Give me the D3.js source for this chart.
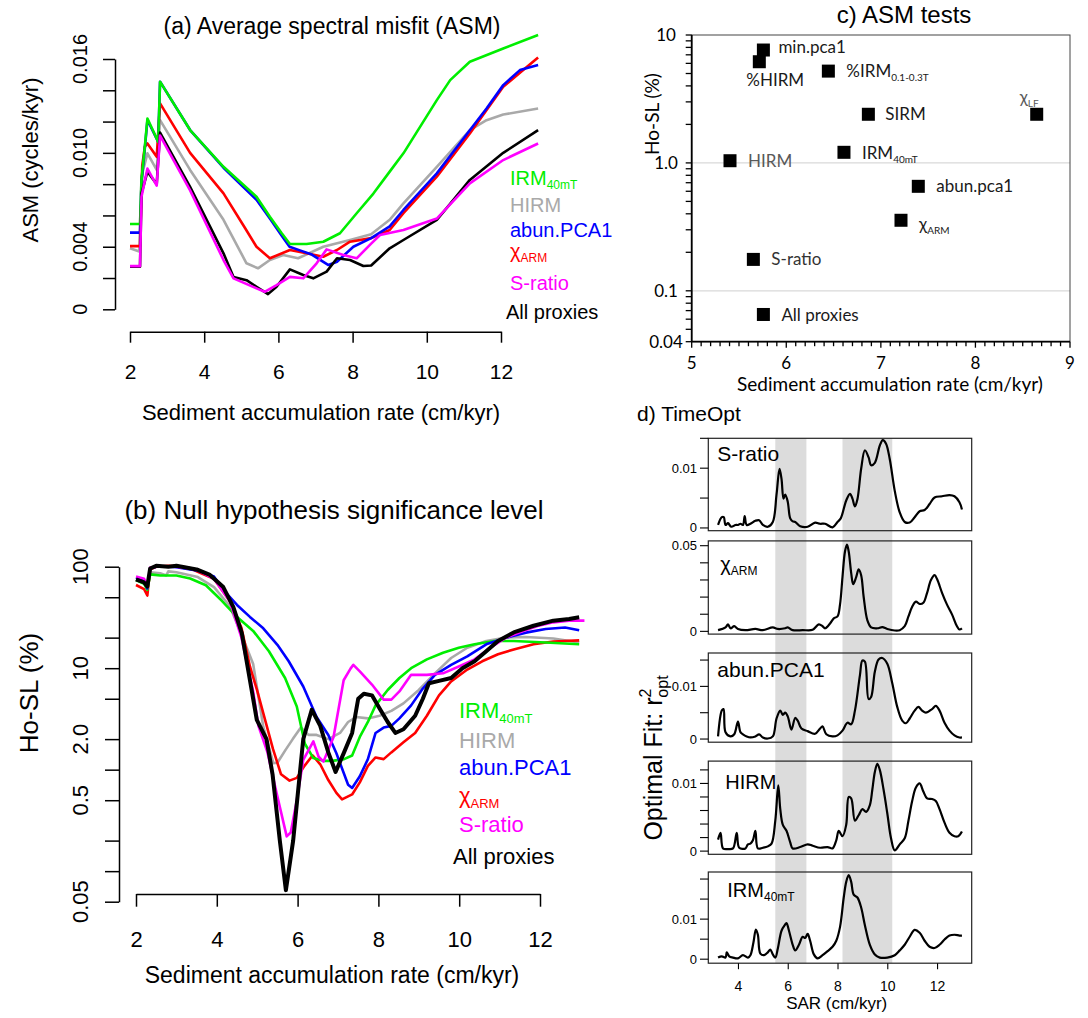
<!DOCTYPE html>
<html>
<head>
<meta charset="utf-8">
<script src="https://cdn.jsdelivr.net/npm/d3@7"></script>
<style>
  body { margin: 0; background: #fff; }
  svg { display: block; }
</style>
</head>
<body>
<svg id="fig"></svg>
<script>
// ---------- data ----------

// (a) average spectral misfit, [SAR cm/kyr, ASM cycles/kyr]
const asmIrm40 = [[2,0.00545],[2.27,0.00545],[2.31,0.0083],[2.4,0.0104],[2.47,0.0122],[2.76,0.0107],[2.81,0.01455],[3.62,0.01146],[4.52,0.00911],[5.41,0.0072],[5.77,0.00592],[6.09,0.00486],[6.31,0.00417],[6.76,0.00417],[7.21,0.00432],[7.66,0.00486],[8.11,0.00614],[8.56,0.0074],[9.0,0.0088],[9.37,0.00997],[10.27,0.01337],[10.63,0.01465],[11.16,0.01582],[12.06,0.01667],[13.0,0.01753]];
const asmHirm = [[2,0.0039],[2.25,0.0037],[2.31,0.0085],[2.47,0.00997],[2.72,0.00891],[2.81,0.01209],[3.62,0.00891],[4.52,0.00572],[5.14,0.00294],[5.45,0.00262],[5.77,0.00315],[6.13,0.00347],[6.53,0.00326],[7.21,0.004],[7.93,0.00443],[8.5,0.0048],[9.0,0.00572],[9.37,0.00677],[10.27,0.0091],[11.16,0.01145],[11.61,0.01209],[12.06,0.01245],[13.0,0.01284]];
const asmAbun = [[2,0.0049],[2.27,0.0049],[2.31,0.0081],[2.4,0.0103],[2.47,0.0121],[2.76,0.0107],[2.81,0.01455],[3.62,0.01146],[4.52,0.00905],[5.41,0.007],[5.77,0.0058],[6.09,0.0047],[6.3,0.004],[6.6,0.00375],[6.9,0.0035],[7.35,0.00283],[7.58,0.00304],[8.02,0.004],[8.5,0.00455],[9.0,0.0053],[9.37,0.00635],[10.27,0.00869],[11.16,0.01145],[11.61,0.01284],[12.06,0.01433],[12.51,0.01529],[13.0,0.01561]];
const asmChiArm = [[2,0.00404],[2.27,0.00404],[2.33,0.0092],[2.4,0.0104],[2.47,0.0106],[2.72,0.00975],[2.81,0.01316],[3.62,0.01],[4.52,0.00741],[5.1,0.0052],[5.41,0.004],[5.77,0.00326],[6.31,0.00379],[6.76,0.00358],[7.21,0.00336],[7.58,0.00379],[7.93,0.00432],[8.5,0.00455],[9.0,0.00507],[9.37,0.00614],[10.27,0.00848],[11.16,0.01124],[12.06,0.01422],[13.0,0.0161]];
const asmSratio = [[2,0.00276],[2.27,0.00276],[2.31,0.0072],[2.47,0.009],[2.72,0.0079],[2.81,0.0111],[3.62,0.0076],[4.52,0.00315],[4.79,0.00198],[5.41,0.00134],[5.63,0.00112],[5.95,0.00155],[6.31,0.00207],[6.67,0.00198],[7.03,0.00294],[7.3,0.00383],[7.75,0.00347],[8.11,0.00326],[8.5,0.0042],[8.74,0.00475],[9.37,0.00507],[10.27,0.0058],[11.16,0.00805],[12.06,0.00954],[13.0,0.0106]];
const asmAll = [[2,0.00272],[2.27,0.00272],[2.31,0.0074],[2.47,0.0088],[2.72,0.008],[2.81,0.0113],[3.62,0.00783],[4.52,0.00358],[4.79,0.00207],[5.14,0.00186],[5.41,0.00144],[5.72,0.00097],[5.95,0.00144],[6.31,0.00255],[6.67,0.00219],[6.94,0.00198],[7.3,0.00241],[7.58,0.00326],[7.93,0.00315],[8.29,0.00277],[8.5,0.0028],[9.0,0.0039],[9.37,0.00443],[10.27,0.00571],[11.16,0.00827],[12.06,0.01],[13.0,0.01145]];

// (b) null hypothesis significance level, [SAR, Ho-SL %]
const hoIrm40 = [[2.0,74],[2.2,68],[2.28,59],[2.35,84],[2.6,82],[3.0,82],[3.34,76.5],[3.73,65.6],[4.12,46.4],[4.51,31.7],[4.9,23.3],[5.29,14.7],[5.69,8.0],[5.98,4.2],[6.18,1.8],[6.39,1.3],[6.66,1.22],[6.86,1.22],[7.15,1.27],[7.35,1.38],[7.54,2.1],[7.74,2.95],[7.93,4.3],[8.23,6.1],[8.52,8.0],[8.81,10.0],[9.2,12.2],[9.6,14.2],[9.99,15.9],[10.38,17.2],[10.87,18.5],[11.35,18.5],[12.14,17.9],[12.97,17.2]];
const hoHirm = [[2.0,74],[2.2,70],[2.28,61],[2.35,88],[2.6,86],[2.75,82],[2.8,90],[3.0,88],[3.53,79],[3.93,63],[4.32,41],[4.61,21.6],[4.9,11],[5.15,2.65],[5.4,1.16],[5.5,1.17],[5.69,1.54],[5.88,2.0],[6.08,2.6],[6.27,2.2],[6.47,2.2],[6.76,2.0],[7.05,2.3],[7.25,2.95],[7.45,3.3],[7.74,3.2],[8.03,3.4],[8.32,3.8],[8.62,4.5],[9.0,6.1],[9.4,8.9],[9.8,12.6],[10.2,15.9],[10.67,18.5],[11.16,20],[11.65,20.3],[12.33,19.6],[12.97,17.9]];
const hoAbun = [[2.0,78],[2.2,72],[2.28,61],[2.35,96],[2.5,100],[2.8,100],[3.0,99],[3.5,92],[3.93,80],[4.16,59],[4.5,42],[4.82,32],[5.15,24.7],[5.5,17],[5.78,11.7],[6.14,6.6],[6.47,3.3],[6.76,2.2],[6.96,1.45],[7.25,0.71],[7.35,0.66],[7.54,0.86],[7.74,1.27],[7.93,2.3],[8.13,2.6],[8.32,2.7],[8.52,3.2],[8.81,4.3],[9.1,6.3],[9.4,8.6],[9.8,10.8],[10.2,13.1],[10.67,17.2],[11.16,20],[11.65,22.4],[12.14,24.3],[12.62,25.2],[12.97,23.6]];
const hoChiArm = [[2.0,66],[2.2,60],[2.28,52],[2.35,94],[2.5,100],[2.8,102],[3.0,101],[3.3,98],[3.53,89],[3.93,76],[4.32,46],[4.61,25],[4.82,10.4],[5.0,6.0],[5.15,3.6],[5.39,1.6],[5.59,0.9],[5.8,0.78],[5.98,0.83],[6.17,1.09],[6.37,1.38],[6.56,1.13],[6.76,0.79],[6.96,0.59],[7.1,0.51],[7.35,0.57],[7.54,0.75],[7.74,1.09],[7.93,1.32],[8.13,1.27],[8.32,1.48],[8.62,1.86],[8.91,2.3],[9.2,3.4],[9.5,5.4],[9.8,7.4],[10.2,9.7],[10.57,11.7],[10.96,13.7],[11.35,15.3],[11.84,17.2],[12.33,18.3],[12.97,18.8]];
const hoSratio = [[2.0,80],[2.2,76],[2.28,65],[2.35,98],[2.5,100],[2.8,101],[3.0,100],[3.5,94],[3.93,76],[4.32,46],[4.61,20],[4.9,5.9],[5.03,2.7],[5.25,1.5],[5.48,0.59],[5.73,0.22],[5.83,0.24],[5.98,0.5],[6.14,1.25],[6.39,1.9],[6.52,1.34],[6.64,1.2],[6.89,2.1],[7.14,7.6],[7.31,9.9],[7.38,10.8],[7.54,9.3],[7.84,6.9],[8.13,4.9],[8.32,4.9],[8.52,5.9],[8.81,8.6],[9.2,8.6],[9.6,8.9],[9.99,10.4],[10.38,12.2],[10.77,15.9],[11.16,20],[11.55,23],[11.94,26],[12.33,28.3],[12.72,29.4],[13.1,29.4]];
const hoAll = [[2.0,75],[2.2,70],[2.28,64],[2.35,96],[2.5,102],[2.8,100],[3.0,102],[3.5,94],[3.83,83],[4.16,63],[4.41,40],[4.62,22],[4.82,7.6],[4.99,3.1],[5.23,2.0],[5.38,0.9],[5.56,0.2],[5.71,0.065],[5.89,0.2],[6.14,2.0],[6.35,3.9],[6.56,2.7],[6.76,1.48],[6.94,0.95],[7.15,1.48],[7.35,2.3],[7.5,5.0],[7.64,5.6],[7.84,5.4],[8.03,4.0],[8.23,2.95],[8.42,2.3],[8.62,2.5],[8.91,3.4],[9.1,5.0],[9.25,7.1],[9.5,7.5],[9.8,8.0],[10.08,10.0],[10.38,11.7],[10.67,14.7],[10.96,18.5],[11.35,22.5],[11.84,26.2],[12.33,29.4],[12.72,30.5],[12.97,31.7]];

const proxyMain = ["IRM", "HIRM", "abun.PCA1", "χ", "S-ratio", "All proxies"];
const proxySub = ["40mT", "", "", "ARM", "", ""];
const proxyColors = ["#00ee00", "#a9a9a9", "#0000ff", "#ff0000", "#ff00ff", "#000000"];

// (c) ASM tests
const testMain = ["min.pca1", "%HIRM", "%IRM", "χ", "SIRM", "IRM", "HIRM", "abun.pca1", "χ", "S-ratio", "All proxies"];
const testSub = ["", "", "0.1-0.3T", "LF", "", "40mT", "", "", "ARM", "", ""];
const testSar = [5.758, 5.715, 6.445, 8.648, 6.868, 6.61, 5.405, 7.396, 7.213, 5.652, 5.758];
const testHoSL = [7.63, 6.18, 5.22, 2.4, 2.4, 1.21, 1.04, 0.656, 0.356, 0.176, 0.0653];
const testInk = ["#1a1a1a", "#1a1a1a", "#1a1a1a", "#595959", "#1a1a1a", "#1a1a1a", "#595959", "#1a1a1a", "#1a1a1a", "#333", "#1a1a1a"];

// (d) TimeOpt, [SAR, r2opt]
const toptSratio = [[3.2,0.0005],[3.35,0.0018],[3.43,0.0018],[3.5,0.0005],[3.6,0.0008],[3.73,0.0002],[3.9,0.0005],[4.0,0.0005],[4.1,0.0007],[4.2,0.0005],[4.27,0.002],[4.35,0.0005],[4.5,0.0007],[4.7,0.0012],[4.85,0.0013],[5.0,0.0005],[5.2,0.0002],[5.4,0.001],[5.55,0.0056],[5.67,0.0099],[5.75,0.0082],[5.83,0.0049],[5.9,0.0056],[6.0,0.0044],[6.1,0.0016],[6.2,0.0011],[6.3,0.001],[6.5,0.0003],[6.8,0.0002],[7.1,0.0009],[7.3,0.0007],[7.5,0.0007],[7.8,0.0001],[8.0,0.001],[8.13,0.0016],[8.35,0.0046],[8.5,0.0057],[8.6,0.0049],[8.7,0.0036],[8.8,0.0048],[8.95,0.0099],[9.1,0.013],[9.25,0.0118],[9.35,0.0105],[9.5,0.0109],[9.7,0.0138],[9.82,0.0147],[9.95,0.0141],[10.1,0.0115],[10.3,0.0062],[10.5,0.0026],[10.7,0.001],[10.9,0.0009],[11.1,0.0018],[11.3,0.0028],[11.5,0.003],[11.7,0.004],[11.9,0.0051],[12.2,0.0053],[12.5,0.0055],[12.7,0.0053],[12.9,0.0043],[13.0,0.0031]];
const toptChiArm = [[3.2,0.0007],[3.5,0.0023],[3.6,0.0041],[3.7,0.0018],[3.85,0.003],[4.0,0.0014],[4.3,0.0007],[4.7,0.0014],[5.0,0.0007],[5.4,0.0023],[5.6,0.0014],[5.9,0.0018],[6.0,0.0023],[6.2,0.0007],[6.6,0.0007],[7.0,0.0009],[7.25,0.0041],[7.4,0.003],[7.5,0.0018],[7.7,0.0046],[7.85,0.0076],[8.0,0.0087],[8.1,0.0156],[8.2,0.0317],[8.3,0.0466],[8.38,0.0507],[8.45,0.0466],[8.55,0.034],[8.63,0.0275],[8.75,0.0317],[8.85,0.0362],[8.95,0.0328],[9.05,0.0202],[9.2,0.0064],[9.35,0.0023],[9.6,0.0018],[9.8,0.0025],[10.0,0.0014],[10.3,0.0005],[10.5,0.0007],[10.7,0.003],[10.85,0.0087],[11.0,0.0144],[11.15,0.0174],[11.3,0.016],[11.45,0.0167],[11.6,0.0225],[11.75,0.0298],[11.9,0.0328],[12.0,0.0305],[12.2,0.0225],[12.4,0.0156],[12.6,0.0099],[12.8,0.003],[12.9,0.0011],[13.0,0.0018]];
const toptAbun = [[3.2,0.0005],[3.35,0.0054],[3.42,0.0057],[3.5,0.0013],[3.7,0.0005],[3.85,0.0009],[4.0,0.0033],[4.1,0.0013],[4.2,0.0009],[4.35,0.0005],[4.5,0.0003],[4.7,0.0005],[4.85,0.0009],[5.0,0.0003],[5.2,0.0001],[5.4,0.0005],[5.55,0.0039],[5.7,0.0054],[5.8,0.0046],[5.9,0.005],[6.0,0.0043],[6.15,0.0018],[6.3,0.004],[6.4,0.0035],[6.55,0.002],[6.8,0.0015],[7.1,0.001],[7.3,0.002],[7.4,0.0024],[7.55,0.0009],[7.8,0.0005],[8.0,0.0007],[8.2,0.0016],[8.4,0.0031],[8.55,0.0028],[8.7,0.0054],[8.9,0.0121],[9.0,0.0149],[9.1,0.0147],[9.25,0.0076],[9.35,0.008],[9.5,0.0128],[9.65,0.0151],[9.8,0.0154],[10.0,0.0143],[10.2,0.0106],[10.4,0.0061],[10.6,0.0035],[10.75,0.003],[10.9,0.0039],[11.1,0.0054],[11.25,0.0061],[11.4,0.0054],[11.55,0.005],[11.8,0.0057],[11.95,0.0063],[12.1,0.0054],[12.3,0.0031],[12.5,0.0016],[12.7,0.0007],[12.9,0.0003],[13.0,0.0003]];
const toptHirm = [[3.2,0.0017],[3.3,0.0027],[3.4,0.0004],[3.6,0.0003],[3.8,0.0004],[3.95,0.0027],[4.05,0.0005],[4.3,0.0004],[4.4,0.001],[4.5,0.0011],[4.6,0.0016],[4.7,0.003],[4.8,0.0004],[5.0,0.0005],[5.2,0.0007],[5.35,0.0011],[5.5,0.0045],[5.62,0.0097],[5.7,0.0062],[5.8,0.0039],[5.95,0.003],[6.1,0.0013],[6.2,0.0004],[6.5,0.0006],[6.8,0.001],[7.0,0.0008],[7.3,0.0005],[7.6,0.0006],[7.8,0.0004],[7.95,0.0016],[8.05,0.003],[8.2,0.0022],[8.35,0.0039],[8.45,0.008],[8.55,0.0078],[8.7,0.0045],[8.85,0.0053],[9.0,0.0062],[9.15,0.0058],[9.3,0.0068],[9.4,0.0091],[9.5,0.0117],[9.6,0.0129],[9.7,0.012],[9.85,0.0091],[10.0,0.0056],[10.15,0.0019],[10.3,0.0001],[10.5,0.001],[10.7,0.0019],[10.85,0.0045],[11.0,0.0074],[11.15,0.0094],[11.3,0.01],[11.45,0.0088],[11.6,0.0078],[11.8,0.0077],[11.95,0.0074],[12.1,0.0062],[12.3,0.0042],[12.5,0.0027],[12.7,0.0022],[12.85,0.0022],[13.0,0.0029]];
const toptIrm40 = [[3.2,0.0004],[3.35,0.0007],[3.5,0.0004],[3.55,0.0017],[3.65,0.0007],[3.8,0.0004],[4.0,0.0002],[4.2,0.001],[4.4,0.0004],[4.5,0.001],[4.62,0.0041],[4.72,0.0074],[4.8,0.0061],[4.9,0.0014],[5.05,0.001],[5.2,0.0017],[5.3,0.0024],[5.4,0.0012],[5.5,0.0004],[5.6,0.0026],[5.75,0.0071],[5.88,0.0085],[5.95,0.009],[6.05,0.0071],[6.2,0.0036],[6.3,0.0022],[6.45,0.0036],[6.6,0.0056],[6.7,0.0053],[6.8,0.0063],[6.9,0.0046],[7.05,0.0012],[7.2,0.0002],[7.4,0.001],[7.6,0.002],[7.8,0.0031],[7.95,0.0046],[8.1,0.008],[8.25,0.0154],[8.35,0.0193],[8.45,0.021],[8.55,0.0193],[8.65,0.0161],[8.8,0.0154],[8.95,0.0129],[9.1,0.0085],[9.3,0.0036],[9.5,0.0012],[9.7,0.0004],[10.0,0.0004],[10.3,0.001],[10.5,0.0022],[10.7,0.0036],[10.9,0.0056],[11.1,0.0073],[11.3,0.0066],[11.5,0.0046],[11.7,0.0031],[11.9,0.0028],[12.1,0.0036],[12.3,0.0049],[12.5,0.0059],[12.7,0.0061],[12.9,0.0059],[13.0,0.0059]];

const toptMain = ["S-ratio", "χ", "abun.PCA1", "HIRM", "IRM"];
const toptSub = ["", "ARM", "", "", "40mT"];
const toptYMin = [-0.00046, -0.0016, -0.0006, -0.00047, -0.001];
const toptYMax = [0.015, 0.0528, 0.01634, 0.0133, 0.02176];
const toptTicks = [[0, 0.005, 0.01, 0.015], [0, 0.01, 0.02, 0.03, 0.04, 0.05], [0, 0.005, 0.01, 0.015], [0, 0.002, 0.004, 0.006, 0.008, 0.01, 0.012], [0, 0.005, 0.01, 0.015, 0.02]];
const toptTickText = [["0", "0.01"], ["0", "0.05"], ["0", "0.01"], ["0", "0.01"], ["0", "0.01"]];
const toptBands = [[5.5, 6.75], [8.2, 10.2]];

// ---------- drawing ----------
const W = 1088, H = 1018;
const sans = "'Liberation Sans', Arial, Helvetica, sans-serif";
const cal = "Lato, 'Open Sans', sans-serif";

const svg = d3.select("#fig").attr("width", W).attr("height", H);
svg.append("rect").attr("width", W).attr("height", H).attr("fill", "#fff");

function label(parent, x, y, main, sub, size, opts = {}) {
  const t = parent.append("text")
    .attr("x", x).attr("y", y)
    .attr("font-family", opts.family || sans)
    .attr("font-size", size)
    .attr("fill", opts.fill || "#000")
    .attr("text-anchor", opts.anchor || "start");
  t.append("tspan").text(main);
  if (sub) {
    t.append("tspan").text(sub)
      .attr("font-size", Math.round(size * 0.58))
      .attr("dy", size * 0.22);
  }
  return t;
}

function vLabel(x, y, str, size, family) {
  return svg.append("text")
    .attr("transform", `translate(${x},${y}) rotate(-90)`)
    .attr("text-anchor", "middle")
    .attr("dy", "0.35em")
    .attr("font-family", family || sans)
    .attr("font-size", size)
    .text(str);
}

function tidyAxis(g, width) {
  g.attr("font-family", sans).attr("font-size", null);
  g.selectAll("path, line").attr("stroke", "#000").attr("stroke-width", width);
  g.selectAll("text").attr("fill", "#000");
}

// ===== (a) =====
const xA = d3.scaleLinear().domain([2, 12]).range([130, 501]);
const yA = d3.scaleLinear().domain([0, 0.016]).range([309.3, 59]);
const lineA = d3.line().x(d => xA(d[0])).y(d => yA(d[1]));

const gAy = svg.append("g").attr("transform", "translate(115,0)")
  .call(d3.axisLeft(yA).tickValues(d3.range(0, 0.0161, 0.002)).tickSize(12).tickSizeOuter(0).tickFormat(""));
tidyAxis(gAy, 1.5);
[[0, "0"], [0.004, "0.004"], [0.01, "0.010"], [0.016, "0.016"]].forEach(([v, s]) => vLabel(80, yA(v), s, 20));

const gAx = svg.append("g").attr("transform", "translate(0,331.7)")
  .call(d3.axisBottom(xA).tickValues([2, 4, 6, 8, 10, 12]).tickSize(11).tickSizeOuter(0).tickPadding(21));
tidyAxis(gAx, 1.5);
gAx.selectAll("text").attr("font-size", 21);

const asmSeries = [asmIrm40, asmHirm, asmAbun, asmChiArm, asmSratio, asmAll];
[1, 3, 2, 0, 5, 4].forEach(i => {
  svg.append("path").attr("d", lineA(asmSeries[i]))
    .attr("fill", "none").attr("stroke", proxyColors[i])
    .attr("stroke-width", 2.6).attr("stroke-linejoin", "round");
});

const legAy = [185, 212, 237, 258, 290, 319];
proxyMain.forEach((m, i) => label(svg, i === 5 ? 506 : 510, legAy[i], m, proxySub[i], 20, { fill: proxyColors[i] }));

label(svg, 332, 34, "(a) Average spectral misfit (ASM)", "", 23, { anchor: "middle" });
label(svg, 321, 420, "Sediment accumulation rate (cm/kyr)", "", 22, { anchor: "middle" });
vLabel(30, 160, "ASM (cycles/kyr)", 22);

// ===== (b) =====
const xB = d3.scaleLinear().domain([2, 12]).range([136, 540]);
const yB = d3.scaleLog().domain([0.05, 100]).range([901.7, 566.7]);
const lineB = d3.line().x(d => xB(d[0])).y(d => yB(d[1]));

const gBy = svg.append("g").attr("transform", "translate(119,0)")
  .call(d3.axisLeft(yB).tickValues([100, 50, 20, 10, 5, 2, 1, 0.5, 0.2, 0.1, 0.05]).tickSize(14).tickSizeOuter(0).tickFormat(""));
tidyAxis(gBy, 1.5);
[[100, "100"], [10, "10"], [2, "2.0"], [0.5, "0.5"], [0.05, "0.05"]].forEach(([v, s]) => vLabel(80, yB(v), s, 22));

const gBx = svg.append("g").attr("transform", "translate(0,894)")
  .call(d3.axisBottom(xB).tickValues([2, 4, 6, 8, 10, 12]).tickSize(12.7).tickSizeOuter(0).tickPadding(25));
tidyAxis(gBx, 1.5);
gBx.selectAll("text").attr("font-size", 22);

const hoSeries = [hoIrm40, hoHirm, hoAbun, hoChiArm, hoSratio, hoAll];
[1, 3, 0, 2, 4, 5].forEach(i => {
  svg.append("path").attr("d", lineB(hoSeries[i]))
    .attr("fill", "none").attr("stroke", proxyColors[i])
    .attr("stroke-width", i === 5 ? 4 : 2.6).attr("stroke-linejoin", "round");
});

const legBy = [718, 748, 775, 803, 832, 864];
proxyMain.forEach((m, i) => label(svg, i === 5 ? 453 : 459, legBy[i], m, proxySub[i], 22, { fill: proxyColors[i] }));

label(svg, 334, 519, "(b) Null hypothesis significance level", "", 26, { anchor: "middle" });
label(svg, 332, 983, "Sediment accumulation rate (cm/kyr)", "", 23, { anchor: "middle" });
vLabel(29, 693, "Ho-SL (%)", 26);

// ===== (c) =====
const xC = d3.scaleLinear().domain([5, 9]).range([691.7, 1070]);
const yC = d3.scaleLog().domain([0.04, 10]).range([341.7, 35]);
const gC = svg.append("g");

[1, 0.1].forEach(v => gC.append("line")
  .attr("x1", xC(5)).attr("x2", xC(9)).attr("y1", yC(v)).attr("y2", yC(v))
  .attr("stroke", "#d9d9d9").attr("stroke-width", 1.3));
gC.append("rect").attr("x", xC(5)).attr("y", yC(10))
  .attr("width", xC(9) - xC(5)).attr("height", yC(0.04) - yC(10))
  .attr("fill", "none").attr("stroke", "#444").attr("stroke-width", 1);

const cYTicks = [];
[0.01, 0.1, 1].forEach(dec => d3.range(1, 10).forEach(k => {
  const v = +(k * dec).toPrecision(3);
  if (v >= 0.04 && v <= 10) cYTicks.push(v);
}));
cYTicks.push(10);
cYTicks.forEach(v => gC.append("line")
  .attr("x1", xC(5) - 6).attr("x2", xC(5)).attr("y1", yC(v)).attr("y2", yC(v))
  .attr("stroke", "#000").attr("stroke-width", 1.3));
d3.range(50, 91).forEach(k => gC.append("line")
  .attr("x1", xC(k / 10)).attr("x2", xC(k / 10))
  .attr("y1", yC(0.04)).attr("y2", yC(0.04) + (k % 10 === 0 ? 6 : 4.5))
  .attr("stroke", "#000").attr("stroke-width", 1.3));
gC.append("line").attr("x1", xC(5)).attr("x2", xC(5)).attr("y1", yC(10)).attr("y2", yC(0.04))
  .attr("stroke", "#000").attr("stroke-width", 1.8);
gC.append("line").attr("x1", xC(5)).attr("x2", xC(9)).attr("y1", yC(0.04)).attr("y2", yC(0.04))
  .attr("stroke", "#000").attr("stroke-width", 1.8);

[[10, "10"], [1, "1.0"], [0.1, "0.1"], [0.04, "0.04"]].forEach(([v, s]) =>
  label(gC, 666, yC(v) + 6, s, "", 17, { family: cal, anchor: "middle" }));
[5, 6, 7, 8, 9].forEach(v => label(gC, xC(v), 369, String(v), "", 17, { family: cal, anchor: "middle" }));

const testDx = [15, -13, 18, -17, 17, 18, 18, 18, 18, 18, 18];
const testDy = [-3, 18, 0, -17, 0, 1, 0, 0, 4, 0, 1];
testSar.forEach((x, i) => {
  const px = xC(x), py = yC(testHoSL[i]);
  gC.append("rect").attr("x", px - 6.5).attr("y", py - 6.5)
    .attr("width", 13).attr("height", 13).attr("fill", "#000");
  label(gC, px + testDx[i], py + testDy[i] + 6, testMain[i], testSub[i], 17,
    { family: cal, fill: testInk[i] });
});

label(svg, 890, 391, "Sediment accumulation rate (cm/kyr)", "", 19, { family: cal, anchor: "middle" });
vLabel(652, 114, "Ho-SL (%)", 19, cal);
label(svg, 904, 23, "c) ASM tests", "", 24, { anchor: "middle" });

// ===== (d) =====
const xD = d3.scaleLinear().domain([2.808, 13.392]).range([708.3, 971.7]);
const boxTop = [438.3, 540.9, 653.0, 761.1, 872.0];
const boxBottom = [530.7, 634.1, 742.2, 854.3, 963.2];
const gD = svg.append("g");

toptBands.forEach(([a, b]) => gD.append("rect")
  .attr("x", xD(a)).attr("width", xD(b) - xD(a))
  .attr("y", boxTop[0]).attr("height", boxBottom[4] - boxTop[0])
  .attr("fill", "#dcdcdc"));

const toptSeries = [toptSratio, toptChiArm, toptAbun, toptHirm, toptIrm40];
const labelDx = [9, 12, 9, 17, 19];
const labelDy = [23, 30, 24, 28, 25];
toptSeries.forEach((series, i) => {
  const yD = d3.scaleLinear().domain([toptYMin[i], toptYMax[i]]).range([boxBottom[i], boxTop[i]]);
  gD.append("path")
    .attr("d", d3.line().curve(d3.curveCatmullRom.alpha(0.5)).x(d => xD(d[0])).y(d => yD(d[1]))(series))
    .attr("fill", "none").attr("stroke", "#000").attr("stroke-width", 2.2);
  gD.append("rect").attr("x", 708.3).attr("y", boxTop[i])
    .attr("width", 971.7 - 708.3).attr("height", boxBottom[i] - boxTop[i])
    .attr("fill", "none").attr("stroke", "#222").attr("stroke-width", 1.2);
  toptTicks[i].forEach(v => gD.append("line")
    .attr("x1", 700).attr("x2", 708.3).attr("y1", yD(v)).attr("y2", yD(v))
    .attr("stroke", "#000").attr("stroke-width", 1.1));
  toptTickText[i].forEach(s => label(gD, 697, yD(+s) + 4.5, s, "", 13, { anchor: "end" }));
  label(gD, 708.3 + labelDx[i], boxTop[i] + labelDy[i], toptMain[i], toptSub[i],
    i >= 3 || i === 1 ? 20 : 21);
});

const gDx = gD.append("g").attr("transform", `translate(0,${boxBottom[4]})`)
  .call(d3.axisBottom(xD).tickValues([4, 6, 8, 10, 12]).tickSize(6).tickSizeOuter(0).tickPadding(12));
tidyAxis(gDx, 1.1);
gDx.select(".domain").remove();
gDx.selectAll("text").attr("font-size", 14);

label(svg, 836.7, 1009, "SAR (cm/kyr)", "", 17, { anchor: "middle" });
label(svg, 637, 421, "d) TimeOpt", "", 21);

const yLab = svg.append("text")
  .attr("transform", "translate(653,758) rotate(-90)")
  .attr("text-anchor", "middle").attr("dy", "0.35em")
  .attr("font-family", sans).attr("font-size", 25);
yLab.append("tspan").text("Optimal Fit:  r");
yLab.append("tspan").text("2").attr("font-size", 16).attr("dy", -11);
yLab.append("tspan").text("opt").attr("font-size", 16).attr("dx", -9).attr("dy", 17);
</script>
</body>
</html>
